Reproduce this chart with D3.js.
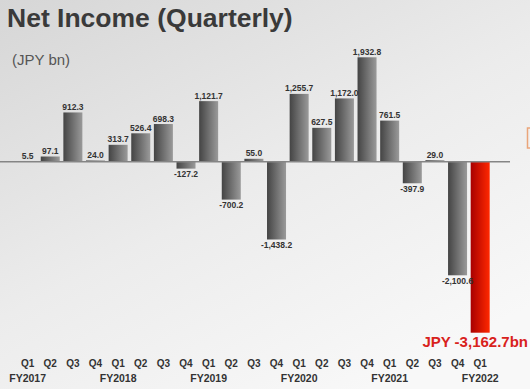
<!DOCTYPE html>
<html>
<head>
<meta charset="utf-8">
<script src="https://cdn.jsdelivr.net/npm/d3@7"></script>
<style>
  body { margin: 0; overflow: hidden; }
  svg { display: block; font-family: 'Liberation Sans', Arial, sans-serif; }
</style>
</head>
<body>
<svg id="chart" width="530" height="389"></svg>
<script>
// quarters FY2017 Q1 .. FY2022 Q1
const quarters = ['Q1', 'Q2', 'Q3', 'Q4', 'Q1', 'Q2', 'Q3', 'Q4', 'Q1', 'Q2', 'Q3', 'Q4',
  'Q1', 'Q2', 'Q3', 'Q4', 'Q1', 'Q2', 'Q3', 'Q4', 'Q1']
const fiscalYears = ['FY2017', 'FY2018', 'FY2019', 'FY2020', 'FY2021', 'FY2022']
const netIncome = [5.5, 97.1, 912.3, 24.0, 313.7, 526.4, 698.3, -127.2, 1121.7, -700.2, 55.0, -1438.2,
  1255.7, 627.5, 1172.0, 1932.8, 761.5, -397.9, 29.0, -2100.6, -3162.7]
const lastLabel = 'JPY -3,162.7bn'

const width = 530
const height = 389
const svg = d3.select('#chart')
const defs = svg.append('defs')

const bg = defs.append('linearGradient').attr('id', 'bg')
  .attr('x1', '0%').attr('y1', '0%').attr('x2', '70%').attr('y2', '100%')
bg.append('stop').attr('offset', '0%').attr('stop-color', '#d6d6d6')
bg.append('stop').attr('offset', '55%').attr('stop-color', '#ececec')
bg.append('stop').attr('offset', '100%').attr('stop-color', '#f8f8f8')

const grey = defs.append('linearGradient').attr('id', 'greyBar')
grey.append('stop').attr('offset', '0%').attr('stop-color', '#444')
grey.append('stop').attr('offset', '100%').attr('stop-color', '#9a9a9a')

const red = defs.append('linearGradient').attr('id', 'redBar')
red.append('stop').attr('offset', '0%').attr('stop-color', '#a80000')
red.append('stop').attr('offset', '100%').attr('stop-color', '#ff2800')

svg.append('rect').attr('width', width).attr('height', height).attr('fill', 'url(#bg)')

// little orange mark at the right edge
svg.append('rect').attr('x', 527.5).attr('y', 128).attr('width', 10).attr('height', 20)
  .attr('fill', 'none').attr('stroke', '#eaa57a').attr('stroke-width', 1.5)

svg.append('text').attr('x', 7).attr('y', 27)
  .attr('font-size', 26.5).attr('font-weight', 'bold').attr('fill', '#3a3a3a')
  .text('Net Income (Quarterly)')
svg.append('text').attr('x', 12).attr('y', 65)
  .attr('font-size', 15).attr('fill', '#555')
  .text('(JPY bn)')

const x = d3.scaleBand()
  .domain(d3.range(netIncome.length))
  .range([16.3, 491.5])
  .paddingInner(0.16)
  .paddingOuter(0.08)

const y = d3.scaleLinear()
  .domain([-3162.7, 1932.8])
  .range([332.7, 57.3])

// hyphen minus like the original slide, not the unicode minus
const fmt = v => d3.format(',.1f')(v).replace('\u2212', '-')
const last = netIncome.length - 1

svg.append('g').selectAll('rect')
  .data(netIncome)
  .join('rect')
  .attr('x', (d, i) => x(i))
  .attr('width', x.bandwidth())
  .attr('y', d => y(Math.max(0, d)))
  .attr('height', d => Math.abs(y(d) - y(0)))
  .attr('fill', (d, i) => i === last ? 'url(#redBar)' : 'url(#greyBar)')

svg.append('line')
  .attr('x1', 0).attr('x2', 510)
  .attr('y1', y(0)).attr('y2', y(0))
  .attr('stroke', '#858585').attr('stroke-width', 1.5)

svg.append('g').selectAll('text')
  .data(netIncome.slice(0, last))
  .join('text')
  .attr('x', (d, i) => x(i) + x.bandwidth() / 2)
  .attr('y', d => d >= 0 ? y(d) - 2.5 : y(d) + 8.5)
  .attr('text-anchor', 'middle')
  .attr('font-size', 8.5).attr('font-weight', 'bold').attr('fill', '#333')
  .text(d => fmt(d))

svg.append('text')
  .attr('x', 528).attr('y', 347)
  .attr('text-anchor', 'end')
  .attr('font-size', 15).attr('font-weight', 'bold').attr('fill', '#d8221c')
  .text(lastLabel)

svg.append('g').selectAll('text')
  .data(quarters)
  .join('text')
  .attr('x', (d, i) => x(i) + x.bandwidth() / 2)
  .attr('y', 367)
  .attr('text-anchor', 'middle')
  .attr('font-size', 10).attr('font-weight', 'bold').attr('fill', '#333')
  .text(d => d)

svg.append('g').selectAll('text')
  .data(fiscalYears)
  .join('text')
  .attr('x', (d, i) => x(i * 4) + x.bandwidth() / 2)
  .attr('y', 382)
  .attr('text-anchor', 'middle')
  .attr('font-size', 10.5).attr('font-weight', 'bold').attr('fill', '#333')
  .text(d => d)
</script>
</body>
</html>
